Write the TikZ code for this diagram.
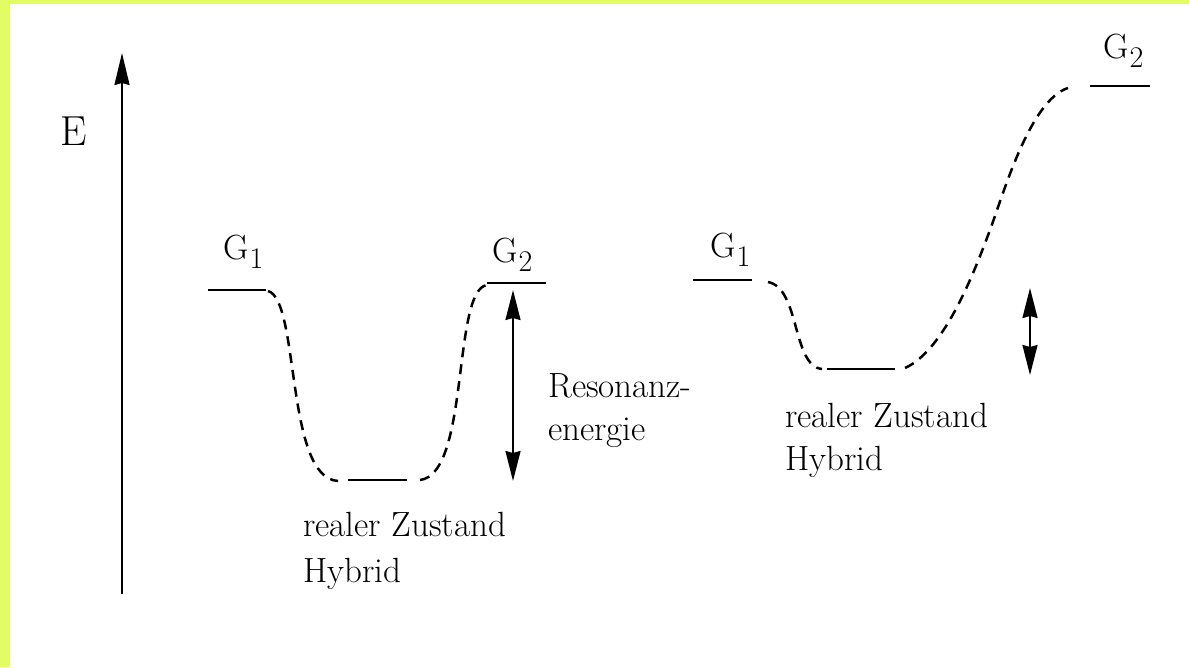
\documentclass[tikz,border=0pt]{standalone}
\usetikzlibrary{arrows.meta}
\definecolor{bordery}{RGB}{226,252,100}
\newcommand{\levlab}[1]{G\kern1pt\raisebox{-9pt}{\fontsize{30}{30}\selectfont #1}}
\begin{document}
\begin{tikzpicture}[x=1pt,y=-1pt,
  level/.style={line width=2.4pt},
  dashcurve/.style={line width=2.5pt, dash pattern=on 10pt off 7pt},
  txt/.style={inner sep=0pt, anchor=base west, font=\fontsize{35}{43}\selectfont},
  dbl/.style={line width=2pt, {Stealth[length=30pt,width=15pt,inset=2pt]}-{Stealth[length=30pt,width=15pt,inset=2pt]}},
]
\useasboundingbox (0,0) rectangle (1189,667);
\fill[bordery] (0,0) rectangle (10,667);
\fill[bordery] (0,0) rectangle (1189,4);

% energy axis
\coordinate (axb) at (122,594);
\coordinate (axt) at (122,53);
\draw[line width=2pt, -{Stealth[length=32pt,width=15pt,inset=2pt]}] (axb) -- (axt);
\node[txt, font=\fontsize{42}{42}\selectfont] (E) at (60,145) {E};

% left diagram
\coordinate (g1la) at (208,290); \coordinate (g1lb) at (266,290);
\coordinate (hla) at (348,480);  \coordinate (hlb) at (407,480);
\coordinate (g2la) at (487,283); \coordinate (g2lb) at (546,283);
\draw[level] (g1la) -- (g1lb);
\draw[level] (hla) -- (hlb);
\draw[level] (g2la) -- (g2lb);
\draw[dashcurve] (268,291) .. controls (300,300) and (285,478) .. (338,481);
\draw[dashcurve] (420,480) .. controls (470,474) and (452,290) .. (487,285);
\coordinate (rla) at (513,290); \coordinate (rlb) at (513,481);
\draw[dbl] (rla) -- (rlb);
\node[txt] (g1l) at (223,259) {\levlab{1}};
\node[txt] (g2l) at (492,262) {\levlab{2}};
\node[txt] (res1) at (548,397) {Resonanz-};
\node[txt] (res2) at (548,440) {energie};
\node[txt] (hl1) at (303,536) {realer Zustand};
\node[txt] (hl2) at (303,582) {Hybrid};

% right diagram
\coordinate (g1ra) at (693,280); \coordinate (g1rb) at (752,280);
\coordinate (hra) at (827,369);  \coordinate (hrb) at (895,369);
\coordinate (g2ra) at (1090,86); \coordinate (g2rb) at (1150,86);
\draw[level] (g1ra) -- (g1rb);
\draw[level] (hra) -- (hrb);
\draw[level] (g2ra) -- (g2rb);
\draw[dashcurve] (768,282) .. controls (800,288) and (792,366) .. (822,369);
\draw[dashcurve] (905,368) .. controls (945,350) and (975,270) .. (990,230)
                 .. controls (1003,195) and (1030,100) .. (1068,88);
\coordinate (rra) at (1030,288); \coordinate (rrb) at (1030,375);
\draw[dbl] (rra) -- (rrb);
\node[txt] (g1r) at (710,257) {\levlab{1}};
\node[txt] (g2r) at (1103,58) {\levlab{2}};
\node[txt] (hr1) at (785,427) {realer Zustand};
\node[txt] (hr2) at (785,470) {Hybrid};
\end{tikzpicture}
\end{document}
